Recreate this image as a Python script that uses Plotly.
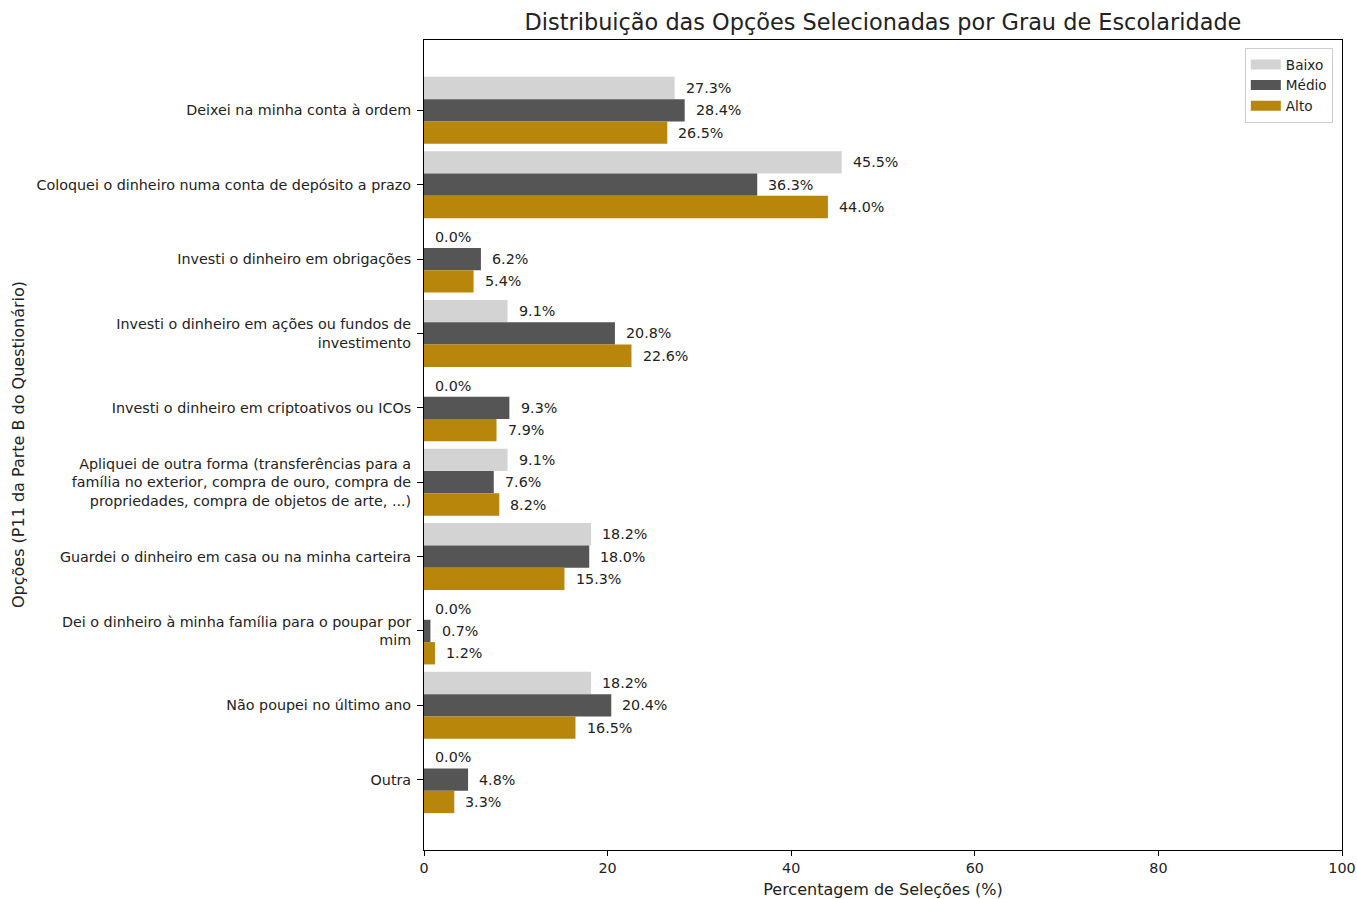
import plotly.graph_objects as go

categories = [
    "Deixei na minha conta à ordem",
    "Coloquei o dinheiro numa conta de depósito a prazo",
    "Investi o dinheiro em obrigações",
    "Investi o dinheiro em ações ou fundos de<br>investimento",
    "Investi o dinheiro em criptoativos ou ICOs",
    "Apliquei de outra forma (transferências para a<br>família no exterior, compra de ouro, compra de<br>propriedades, compra de objetos de arte, ...)",
    "Guardei o dinheiro em casa ou na minha carteira",
    "Dei o dinheiro à minha família para o poupar por<br>mim",
    "Não poupei no último ano",
    "Outra",
]
baixo = [27.3, 45.5, 0.0, 9.1, 0.0, 9.1, 18.2, 0.0, 18.2, 0.0]
medio = [28.4, 36.3, 6.2, 20.8, 9.3, 7.6, 18.0, 0.7, 20.4, 4.8]
alto = [26.5, 44.0, 5.4, 22.6, 7.9, 8.2, 15.3, 1.2, 16.5, 3.3]
series_names = ["Baixo", "Médio", "Alto"]
x_ticks = [0, 20, 40, 60, 80, 100]

colors = ["#d3d3d3", "#555555", "#b8860b"]
bar_h = 0.3
offsets = [-bar_h, 0.0, bar_h]
FONT = "DejaVu Sans"
TXT = "#222222"

W, H = 1357, 899
L, R, T, B = 424, 15, 40, 49
plot_w = W - L - R

fig = go.Figure()
annotations = []
idx = list(range(len(categories)))
for name, vals, col, off in zip(series_names, [baixo, medio, alto], colors, offsets):
    ys = [i + off for i in idx]
    fig.add_trace(go.Bar(
        x=vals, y=ys, orientation="h", width=bar_h, name=name,
        marker=dict(color=col, line=dict(width=0)), showlegend=False,
    ))
    for v, y in zip(vals, ys):
        annotations.append(dict(
            x=v + 1, y=y, xref="x", yref="y", text=f"{v:.1f}%",
            showarrow=False, xanchor="left", yanchor="middle",
            font=dict(family=FONT, size=14.3, color=TXT),
        ))

# legend proxies (wide rectangular swatches like the reference)
for name, col in zip(series_names, colors):
    fig.add_trace(go.Scatter(
        x=[None], y=[None], mode="lines", name=name,
        line=dict(color=col, width=10), showlegend=True,
    ))

annotations.append(dict(
    x=(18 - L) / plot_w, y=0.5, xref="paper", yref="paper",
    text="Opções (P11 da Parte B do Questionário)", textangle=-90,
    showarrow=False, xanchor="center", yanchor="middle",
    font=dict(family=FONT, size=16, color=TXT),
))

fig.update_layout(
    width=W, height=H,
    margin=dict(l=L, r=R, t=T, b=B, autoexpand=False),
    paper_bgcolor="white", plot_bgcolor="white",
    font=dict(family=FONT, size=14.3, color=TXT),
    title=dict(text="Distribuição das Opções Selecionadas por Grau de Escolaridade",
               x=(L + plot_w / 2) / W, xanchor="center", y=1 - 22 / H, yanchor="middle",
               font=dict(family=FONT, size=22.4, color=TXT)),
    barmode="overlay",
    showlegend=True,
    legend=dict(x=0.99, y=0.99, xanchor="right", yanchor="top",
                bgcolor="white", bordercolor="#cccccc", borderwidth=1,
                font=dict(family=FONT, size=13.6, color=TXT), tracegroupgap=0,
                itemwidth=30),
    annotations=annotations,
)
fig.update_xaxes(
    range=[0, 100], tickvals=x_ticks, ticktext=[str(t) for t in x_ticks],
    showline=True, mirror=True, linecolor="black", linewidth=1,
    ticks="outside", ticklen=5, tickcolor="black", showgrid=False, zeroline=False,
    automargin=False,
    title=dict(text="Percentagem de Seleções (%)", font=dict(family=FONT, size=16, color=TXT), standoff=8),
    tickfont=dict(family=FONT, size=14.3, color=TXT),
)
fig.update_yaxes(
    range=[len(categories) - 1 + 0.945, -0.945],
    tickvals=idx, ticktext=categories, automargin=False,
    showline=True, mirror=True, linecolor="black", linewidth=1,
    ticks="outside", ticklen=6, tickcolor="black", showgrid=False, zeroline=False,
    ticklabelstandoff=3,
    tickfont=dict(family=FONT, size=14.3, color=TXT),
)

fig.write_html(
    "out.html",
    config={"displayModeBar": False},
    post_script="document.body.style.margin='0';document.body.style.overflow='hidden';",
)
